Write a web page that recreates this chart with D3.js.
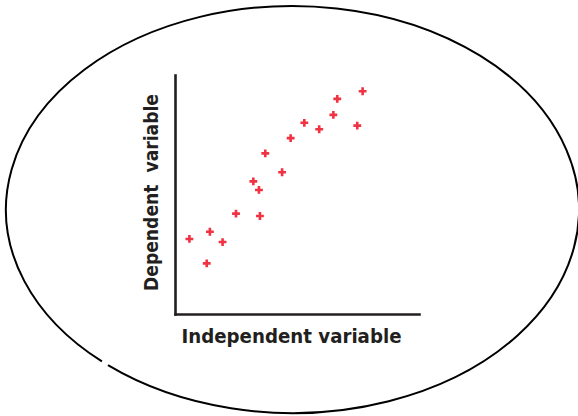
<!DOCTYPE html>
<html>
<head>
<meta charset="utf-8">
<script src="https://cdn.jsdelivr.net/npm/d3@7"></script>
<style>
  body { margin: 0; background: #fff; }
  svg { display: block; }
</style>
</head>
<body>
<div id="viz"></div>
<script>
const width = 578;
const height = 416;

// values (arbitrary 0-10 units)
const xValues = [7.69, 6.65, 6.49, 7.47, 5.30, 5.91, 4.74, 3.70, 4.39, 3.21, 3.44, 2.50, 3.48, 1.43, 0.59, 1.95, 1.30];
const yValues = [9.32, 9.00, 8.33, 7.88, 8.00, 7.73, 7.36, 6.72, 5.93, 5.55, 5.19, 4.20, 4.10, 3.44, 3.14, 3.01, 2.12];
const xLabel = 'Independent variable';
const yLabel = 'Dependent\u00a0\u00a0variable';

const points = xValues.map((x, i) => ({x: x, y: yValues[i]}));

const svg = d3.select('#viz')
    .append('svg')
        .attr('width', width)
        .attr('height', height);

// ellipse frame, with the small break at lower left
const cx = 292.5, cy = 209.5, rx = 286.5, ry = 203.5;
const gapFrom = 130.1 * Math.PI / 180, gapTo = 131.7 * Math.PI / 180;
const pt = a => [cx + rx * Math.cos(a), cy + ry * Math.sin(a)];
const p0 = pt(gapTo), p1 = pt(gapFrom);
svg.append('path')
    .attr('d', `M${p0[0]},${p0[1]} A${rx},${ry} 0 1 1 ${p1[0]},${p1[1]}`)
    .attr('fill', 'none')
    .attr('stroke', '#000')
    .attr('stroke-width', 2);

const xScale = d3.scaleLinear().domain([0, 10]).range([175, 419]);
const yScale = d3.scaleLinear().domain([0, 10]).range([314, 75]);

// axes: just the domain lines, no ticks
svg.append('g')
    .attr('transform', `translate(0,${yScale(0)})`)
    .call(d3.axisBottom(xScale).tickValues([]).tickSizeOuter(0));
svg.append('g')
    .attr('transform', `translate(${xScale(0)},0)`)
    .call(d3.axisLeft(yScale).tickValues([]).tickSizeOuter(0));
svg.selectAll('.domain')
    .attr('stroke', '#231f20')
    .attr('stroke-width', 2.6)
    .attr('stroke-linecap', 'square');

// axis titles
svg.append('text')
    .attr('x', 181.5)
    .attr('y', 342.5)
    .attr('textLength', 220)
    .attr('lengthAdjust', 'spacingAndGlyphs')
    .style('font-family', "'Liberation Sans Narrow', 'DejaVu Sans Condensed', sans-serif")
    .style('font-size', '20px')
    .style('font-weight', 'bold')
    .attr('fill', '#231f20')
    .text(xLabel);

svg.append('text')
    .attr('transform', 'translate(157.5,291) rotate(-90)')
    .attr('textLength', 197)
    .attr('lengthAdjust', 'spacingAndGlyphs')
    .style('font-family', "'Liberation Sans Narrow', 'DejaVu Sans Condensed', sans-serif")
    .style('font-size', '20px')
    .style('font-weight', 'bold')
    .attr('fill', '#231f20')
    .text(yLabel);

// points
const cross = d3.symbol().type(d3.symbolCross).size(34);
svg.append('g')
    .selectAll('path')
    .data(points)
    .join('path')
        .attr('transform', d => `translate(${xScale(d.x)},${yScale(d.y)})`)
        .attr('d', cross)
        .attr('fill', '#ee1c2e')
        .attr('fill-opacity', 0.9);
</script>
</body>
</html>
